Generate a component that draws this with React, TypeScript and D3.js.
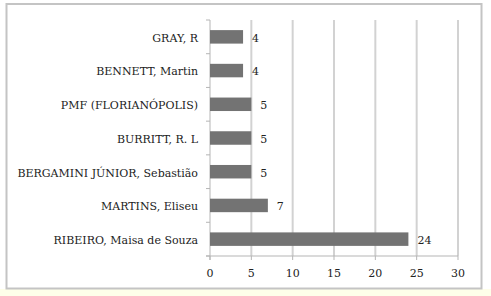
import React from "react";
import * as d3 from "d3";

const categories = [
  "RIBEIRO, Maisa de Souza",
  "MARTINS, Eliseu",
  "BERGAMINI JÚNIOR, Sebastião",
  "BURRITT, R. L",
  "PMF (FLORIANÓPOLIS)",
  "BENNETT, Martin",
  "GRAY, R",
];
const values = [24, 7, 5, 5, 5, 4, 4];
const xTicks = [0, 5, 10, 15, 20, 25, 30];

const W = 491;
const H = 296;
const left = 210;
const right = 458;
const top = 20;
const bottom = 256;
const textStyle: React.CSSProperties = { fontFamily: "DejaVu Serif", fontSize: "11px" };

export default function App() {
  const x = d3.scaleLinear().domain([0, 30]).range([left, right]);
  const order = [...categories].reverse();
  const y = d3.scaleBand().domain(order).range([top, bottom]).paddingInner(0.6).paddingOuter(0.3);
  const band = d3.scaleBand().domain(order).range([top, bottom]);
  const boundaries = d3.range(order.length + 1).map((i) => top + (i * (bottom - top)) / order.length);

  return (
    <div style={{ position: "absolute", left: 0, top: 0, width: W, height: H }}>
      <svg width={W} height={H} style={{ display: "block" }}>
        <rect x={0} y={0} width={W} height={H} fill="#ffffff" />
        <rect x={0} y={289} width={W} height={H - 289} fill="#fefee9" />
        <rect x={6.5} y={4} width={475} height={284.5} fill="#ffffff" stroke="#c4c4c4" strokeWidth={2} />
        {xTicks.map((t) => (
          <line key={"g" + t} x1={x(t)} x2={x(t)} y1={top} y2={bottom} stroke="#d2d2d2" strokeWidth={t === 0 ? 0 : 2} />
        ))}
        <line x1={left} x2={left} y1={top} y2={bottom + 4} stroke="#b5b5b5" strokeWidth={1} />
        {boundaries.map((b, i) => (
          <line key={"yt" + i} x1={left - 4} x2={left} y1={b} y2={b} stroke="#b5b5b5" strokeWidth={1} />
        ))}
        <line x1={left - 4} x2={right} y1={bottom} y2={bottom} stroke="#b5b5b5" strokeWidth={1} />
        {xTicks.map((t) => (
          <line key={"xt" + t} x1={x(t)} x2={x(t)} y1={bottom} y2={bottom + 4} stroke="#b5b5b5" strokeWidth={1} />
        ))}
        {xTicks.map((t) => (
          <text key={"xl" + t} x={x(t)} y={277} textAnchor="middle" style={textStyle} fill="#222">
            {t}
          </text>
        ))}
        {categories.map((c, i) => (
          <g key={c}>
            <rect x={x(0)} y={y(c)} width={x(values[i]) - x(0)} height={y.bandwidth()} fill="#737373" />
            <text x={x(values[i]) + 9} y={(band(c) as number) + band.bandwidth() / 2 + 1} dy="0.35em" style={textStyle} fill="#222">
              {values[i]}
            </text>
            <text x={198} y={(band(c) as number) + band.bandwidth() / 2 + 1} dy="0.35em" textAnchor="end" style={textStyle} fill="#222">
              {c}
            </text>
          </g>
        ))}
      </svg>
    </div>
  );
}
